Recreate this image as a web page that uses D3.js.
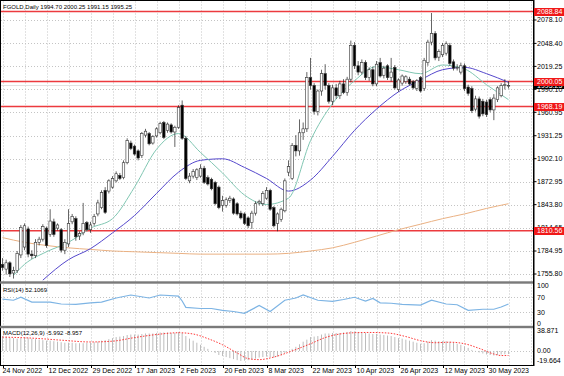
<!DOCTYPE html>
<html>
<head>
<meta charset="utf-8">
<title>FGOLD Daily</title>
<script src="https://cdn.jsdelivr.net/npm/d3@7"></script>
<style>
  html, body { margin:0; padding:0; background:#fff; overflow:hidden }
  svg { display:block; font-family:"Liberation Sans", Arial, sans-serif }
</style>
</head>
<body>
<svg width="564" height="376"></svg>
<script>
// daily bars, oldest first: [open, high, low, close]
const ohlc = [
  [1768,1776,1760,1764],[1762,1774,1755,1770],[1770,1772,1752,1756],[1757,1765,1750,1760],
  [1760,1785,1757,1782],[1780,1818,1776,1815],[1790,1820,1786,1817],[1813,1816,1777,1781],
  [1781,1786,1775,1779],[1779,1800,1776,1796],[1796,1803,1792,1800],[1800,1819,1797,1816],
  [1814,1816,1789,1792],[1806,1838,1803,1823],[1822,1826,1803,1806],[1814,1820,1811,1818],
  [1812,1814,1783,1786],[1786,1800,1781,1796],[1794,1838,1790,1820],[1822,1832,1819,1829],
  [1826,1829,1798,1803],[1804,1810,1799,1807],[1808,1846,1805,1820],[1821,1823,1810,1812],
  [1812,1822,1808,1818],[1820,1832,1817,1829],[1832,1850,1829,1846],[1840,1862,1838,1859],
  [1862,1866,1832,1834],[1861,1876,1858,1874],[1866,1880,1864,1877],[1874,1886,1872,1883],
  [1881,1884,1875,1877],[1878,1900,1876,1897],[1897,1928,1895,1925],[1922,1925,1913,1915],
  [1918,1920,1906,1908],[1912,1914,1900,1903],[1906,1936,1903,1934],[1932,1940,1929,1937],
  [1934,1936,1919,1921],[1922,1932,1920,1930],[1931,1942,1929,1940],[1935,1949,1933,1947],
  [1948,1950,1927,1929],[1938,1948,1935,1946],[1945,1947,1934,1936],[1936,1944,1917,1942],
  [1942,1970,1940,1967],[1970,1976,1926,1928],[1928,1931,1875,1877],[1874,1884,1871,1880],
  [1880,1889,1877,1886],[1878,1890,1875,1888],[1880,1895,1878,1890],[1890,1893,1870,1872],
  [1878,1881,1868,1870],[1876,1878,1862,1864],[1872,1874,1843,1845],[1866,1868,1838,1840],
  [1843,1855,1835,1849],[1843,1853,1840,1850],[1849,1855,1846,1852],[1851,1853,1831,1833],
  [1845,1847,1830,1832],[1833,1836,1825,1827],[1832,1834,1818,1820],[1827,1829,1814,1817],
  [1821,1836,1813,1833],[1833,1848,1830,1845],[1846,1850,1843,1848],[1845,1861,1842,1858],
  [1852,1866,1850,1862],[1862,1864,1836,1838],[1840,1842,1815,1817],[1820,1834,1810,1832],
  [1825,1840,1822,1838],[1836,1877,1834,1874],[1885,1900,1880,1892],[1877,1922,1875,1919],
  [1919,1932,1905,1912],[1912,1952,1906,1935],[1935,1948,1926,1940],[1940,2012,1936,2005],
  [2005,2030,1990,1995],[1995,1998,1958,1962],[1962,1990,1957,1988],[1988,2015,1982,2010],
  [2010,2022,1990,1995],[1995,1998,1972,1975],[1975,1996,1970,1992],[1992,1997,1978,1982],
  [1982,2001,1978,1997],[1997,2003,1984,1986],[1986,2006,1982,2003],[2003,2052,1999,2046],
  [2046,2050,2016,2020],[2020,2026,2008,2012],[2012,2028,2009,2024],[2024,2027,2002,2005],
  [2005,2018,2001,2015],[2015,2019,1994,1997],[1997,2026,1994,2022],[2024,2030,2005,2007],
  [2008,2020,2004,2017],[2020,2022,2002,2005],[2005,2030,2000,2012],[2018,2021,1990,1992],
  [1990,2004,1987,2002],[1998,2009,1995,2007],[2000,2008,1997,2006],[2003,2006,1995,1997],
  [2000,2002,1990,1992],[1991,2003,1988,2001],[2005,2007,1986,1988],[1991,2030,1988,2027],
  [2024,2053,2020,2050],[2050,2087,2046,2061],[2061,2064,2027,2030],[2031,2041,2026,2038],
  [2034,2049,2031,2046],[2036,2051,2033,2048],[2046,2049,2020,2023],[2025,2028,2014,2017],
  [2018,2022,2014,2018],[2012,2024,2009,2020],[2020,2023,1988,1991],[1993,1996,1982,1985],
  [1991,1994,1960,1963],[1965,1982,1962,1978],[1978,1981,1953,1956],[1975,1978,1956,1959],
  [1974,1977,1955,1958],[1977,1980,1961,1964],[1964,1984,1951,1979],[1977,1994,1974,1992],
  [1982,1998,1980,1995],[1995,2003,1990,1996],[1994.70,2000.25,1991.15,1995.25]
];

const priceTicks = [2078.10, 2048.40, 2019.25, 1990.10, 1960.95, 1931.25, 1902.10,
                    1872.95, 1843.80, 1814.65, 1784.95, 1755.80];
const levels = [2088.84, 2000.05, 1968.19, 1810.56];
const lastPrice = 1995.25;
const dateLabels = ["24 Nov 2022", "12 Dec 2022", "29 Dec 2022", "17 Jan 2023", "2 Feb 2023",
                    "20 Feb 2023", "8 Mar 2023", "22 Mar 2023", "10 Apr 2023", "26 Apr 2023",
                    "12 May 2023", "30 May 2023"];

// moving averages: [bar, price]
const maFast = [[3,1754],[6,1768],[12,1784],[18,1796],[24,1814],[30,1826],[36,1866],[42,1914],
  [48,1934],[54,1910],[60,1884],[66,1856],[72,1844],[78,1852],[84,1925],[90,1972],[96,2001],
  [102,2019],[108,2015],[114,2010],[120,2021],[126,2016],[132,1996],[138,1977]];
const maMid = [[11,1748],[18,1774],[24,1788],[30,1808],[36,1830],[42,1858],[48,1885],[54,1900],
  [60,1902],[66,1891],[72,1877],[78,1861],[84,1875],[90,1905],[96,1938],[102,1965],[108,1987],
  [114,2002],[120,2015],[126,2018],[132,2010],[138,1999]];
const maSlow = [[0,1802],[6,1796],[12,1792],[18,1789],[24,1787],[30,1785],[36,1784],[42,1783],
  [48,1782],[54,1781],[60,1781],[66,1781],[72,1781],[78,1782],[84,1785],[90,1789],[96,1796],
  [102,1804],[108,1812],[114,1819],[120,1826],[126,1832],[132,1839],[138,1845]];

// RSI(14): [bar, value]
const rsi = [[0,65],[3,62],[5,70],[8,57],[13,57],[16,52],[20,51],[24,55],[27,57],[31,68],[35,76],
  [40,68],[43,76],[48,73],[49,60],[50,43],[54,40],[57,40],[60,35],[63,32],[66,27],[70,48],[73,32],
  [77,62],[80,68],[82,76],[86,62],[90,59],[93,64],[96,70],[99,60],[101,67],[103,55],[106,54],
  [109,51],[114,49],[117,62],[121,52],[124,50],[127,35],[131,38],[134,38],[136,44],[138,52.1]];

// MACD main, one value per bar
const macdMain = [
  29,28,26,25,24,25,26,26,24,23,22,21,
  20,20,19,18,17,16,16,16,15,15,15,16,
  16,17,18,20,21,23,25,27,28,29,31,32,
  32,32,33,34,34,34,35,36,36,36,35,35,
  37,35,29,24,20,16,12,8,4,0,-4,-8,
  -10,-12,-14,-16,-18,-19.6,-19,-18,-17,-15,-13,-12,
  -11,-12,-13,-11,-8,-4,0,4,8,13,18,22,
  27,28,29,32,34,34,35,35,35,36,37,38.8,
  38,37,36,35,34,33,33,32,31,30,29,27,
  25,24,22,20,18,16,14,15,18,21,20,19,
  19,19,18,16,14,12,9,6,2,-1,-3,-5,
  -7,-8,-9,-8,-7,-6.5,-5.99
];
// MACD signal: [bar, value]
const macdSignal = [[0,27],[8,25],[16,21],[24,17.5],[30,19],[36,26],[42,32],[48,35.5],[52,33],
  [56,24],[60,12],[64,-4],[67,-15],[70,-17],[74,-12],[79,0],[84,14],[88,26],[92,33],[96,35.5],
  [100,36],[105,35],[110,28],[114,20],[118,16],[122,17],[126,14],[130,5],[134,-6],[136,-9],[138,-8.96]];

const svg = d3.select("svg");
const plotR = 533.5;
const main = {top: 1.5, bottom: 281.5};
const rsiP = {top: 284.5, bottom: 326};
const macdP = {top: 328.5, bottom: 365};

const x = d3.scaleLinear().domain([0, ohlc.length - 1]).range([2.5, 508.5]);
const y = d3.scaleLinear().domain([1755.8, 2078.1]).range([274, 20]);
const yRsi = d3.scaleLinear().domain([0, 100]).range([323.5, 286]);
const yMacd = d3.scaleLinear().domain([-19.664, 38.871]).range([361, 331]);
const crisp = v => Math.round(v) + 0.5;

const defs = svg.append("defs");
[["cMain", main], ["cRsi", rsiP], ["cMacd", macdP]].forEach(([id, p]) => {
  defs.append("clipPath").attr("id", id).append("rect")
    .attr("x", 1).attr("y", p.top).attr("width", plotR - 1).attr("height", p.bottom - p.top);
});

const gridColor = "#c4c4c4";
// vertical grid every 6 bars, all panels
const vg = d3.range(0, 160, 6).map(x).filter(v => v < plotR - 2);
[main, rsiP, macdP].forEach(p => {
  svg.append("g").selectAll("line").data(vg).join("line")
    .attr("x1", d => crisp(d)).attr("x2", d => crisp(d))
    .attr("y1", p.top).attr("y2", p.bottom)
    .attr("stroke", gridColor).attr("stroke-width", 1).attr("stroke-dasharray", "1,2");
});
// horizontal grid
svg.append("g").selectAll("line").data(priceTicks).join("line")
  .attr("x1", 1).attr("x2", plotR)
  .attr("y1", d => crisp(y(d))).attr("y2", d => crisp(y(d)))
  .attr("stroke", gridColor).attr("stroke-dasharray", "1,2");
svg.append("g").selectAll("line").data([70, 30]).join("line")
  .attr("x1", 1).attr("x2", plotR)
  .attr("y1", d => crisp(yRsi(d))).attr("y2", d => crisp(yRsi(d)))
  .attr("stroke", gridColor).attr("stroke-dasharray", "1,2");
svg.append("line").attr("x1", 1).attr("x2", plotR)
  .attr("y1", crisp(yMacd(0))).attr("y2", crisp(yMacd(0)))
  .attr("stroke", gridColor).attr("stroke-dasharray", "1,2");

// bid line and horizontal levels
const gMain = svg.append("g").attr("clip-path", "url(#cMain)");
gMain.append("line").attr("x1", 1).attr("x2", plotR)
  .attr("y1", crisp(y(lastPrice))).attr("y2", crisp(y(lastPrice)))
  .attr("stroke", "#e2e2e2").attr("stroke-width", 1);
gMain.selectAll("line.level").data(levels).join("line").attr("class", "level")
  .attr("x1", 1).attr("x2", plotR)
  .attr("y1", d => y(d)).attr("y2", d => y(d))
  .attr("stroke", "#ec3a3e").attr("stroke-width", 1.5);

// moving averages
const ln = (sc) => d3.line().x(d => x(d[0])).y(d => sc(d[1])).curve(d3.curveMonotoneX);
gMain.append("path").datum(maSlow).attr("d", ln(y))
  .attr("fill", "none").attr("stroke", "#eab183").attr("stroke-width", 1);
gMain.append("path").datum(maMid).attr("d", ln(y))
  .attr("fill", "none").attr("stroke", "#5548cc").attr("stroke-width", 1);
gMain.append("path").datum(maFast).attr("d", ln(y))
  .attr("fill", "none").attr("stroke", "#80c6b2").attr("stroke-width", 1);

// candles
const bars = gMain.append("g").selectAll("g").data(ohlc).join("g");
bars.append("line")
  .attr("x1", (d, i) => x(i)).attr("x2", (d, i) => x(i))
  .attr("y1", d => y(d[1])).attr("y2", d => y(d[2]))
  .attr("stroke", "#222").attr("stroke-width", 0.7);
bars.append("rect")
  .attr("x", (d, i) => x(i) - 1.25).attr("width", 2.5)
  .attr("y", d => y(Math.max(d[0], d[3])))
  .attr("height", d => Math.max(0.8, Math.abs(y(d[0]) - y(d[3]))))
  .attr("fill", d => d[3] >= d[0] ? "#fff" : "#000")
  .attr("stroke", "#333").attr("stroke-width", 0.6);

// RSI
svg.append("g").attr("clip-path", "url(#cRsi)").append("path").datum(rsi)
  .attr("d", d3.line().x(d => x(d[0])).y(d => yRsi(d[1])))
  .attr("fill", "none").attr("stroke", "#7db4e4").attr("stroke-width", 1.2);

// MACD
const gMacd = svg.append("g").attr("clip-path", "url(#cMacd)");
gMacd.selectAll("line").data(macdMain).join("line")
  .attr("x1", (d, i) => x(i)).attr("x2", (d, i) => x(i))
  .attr("y1", yMacd(0)).attr("y2", d => yMacd(d))
  .attr("stroke", "#bcbcbc").attr("stroke-width", 1);
gMacd.append("path").datum(macdSignal).attr("d", ln(yMacd))
  .attr("fill", "none").attr("stroke", "#ff2020").attr("stroke-width", 0.9)
  .attr("stroke-dasharray", "1.5,1.5");

// frames and separators
svg.append("rect").attr("x", 0.5).attr("y", 0.5).attr("width", plotR).attr("height", macdP.bottom)
  .attr("fill", "none").attr("stroke", "#000").attr("stroke-width", 1);
[282.5, 327].forEach(v => {
  svg.append("rect").attr("x", 0).attr("y", v - 1.2).attr("width", plotR + 0.5).attr("height", 2.4)
    .attr("fill", "#7a7a7a");
});
svg.append("line").attr("x1", plotR).attr("x2", plotR).attr("y1", 0).attr("y2", macdP.bottom + 1)
  .attr("stroke", "#000");

// axis text
const axisFont = 7;
const gAx = svg.append("g").attr("font-size", axisFont).attr("fill", "#000");
gAx.selectAll("text.p").data(priceTicks).join("text").attr("class", "p")
  .attr("x", 537).attr("y", d => y(d)).attr("dy", "0.35em").text(d => d.toFixed(2));
gAx.selectAll("line.t").data(priceTicks).join("line").attr("class", "t")
  .attr("x1", plotR).attr("x2", plotR + 3).attr("y1", d => y(d)).attr("y2", d => y(d))
  .attr("stroke", "#000");
gAx.selectAll("text.r").data([100, 70, 30, 0]).join("text").attr("class", "r")
  .attr("x", 537).attr("y", d => yRsi(d)).attr("dy", "0.35em").text(d => d);
gAx.selectAll("text.m").data([38.871, 0, -19.664]).join("text").attr("class", "m")
  .attr("x", 537).attr("y", d => yMacd(d)).attr("dy", "0.35em")
  .text(d => d === 0 ? "0.00" : d.toFixed(3));
gAx.selectAll("text.d").data(dateLabels).join("text").attr("class", "d")
  .attr("x", (d, i) => x(i * 12) + (i === 0 ? 0 : 2)).attr("y", 372.5).text(d => d);
gAx.selectAll("line.dt").data(dateLabels).join("line").attr("class", "dt")
  .attr("x1", (d, i) => crisp(x(i * 12))).attr("x2", (d, i) => crisp(x(i * 12)))
  .attr("y1", macdP.bottom).attr("y2", macdP.bottom + 3).attr("stroke", "#000");

// price boxes on the right axis (they sit over the nearby tick labels, as in the terminal)
const box = (val, fill) => {
  const g = svg.append("g");
  g.append("rect").attr("x", plotR + 0.5).attr("y", Math.round(y(val)) - 4).attr("width", 30).attr("height", 8)
    .attr("fill", fill);
  g.append("text").attr("x", 537).attr("y", y(val)).attr("dy", "0.35em")
    .attr("font-size", axisFont).attr("fill", "#fff").text(val.toFixed(2));
};
box(lastPrice, "#000");
levels.forEach(v => box(v, "#f01818"));

// panel captions
const cap = svg.append("g").attr("font-size", 6).attr("fill", "#000");
const last = ohlc[ohlc.length - 1];
cap.append("text").attr("x", 3).attr("y", 8.5)
  .text("FGOLD,Daily  " + last.map(v => v.toFixed(2)).join(" "));
cap.append("text").attr("x", 3).attr("y", 291.5).text("RSI(14) 52.1069");
cap.append("text").attr("x", 3).attr("y", 335).text("MACD(12,26,9) -5.992 -8.957");
</script>
</body>
</html>
